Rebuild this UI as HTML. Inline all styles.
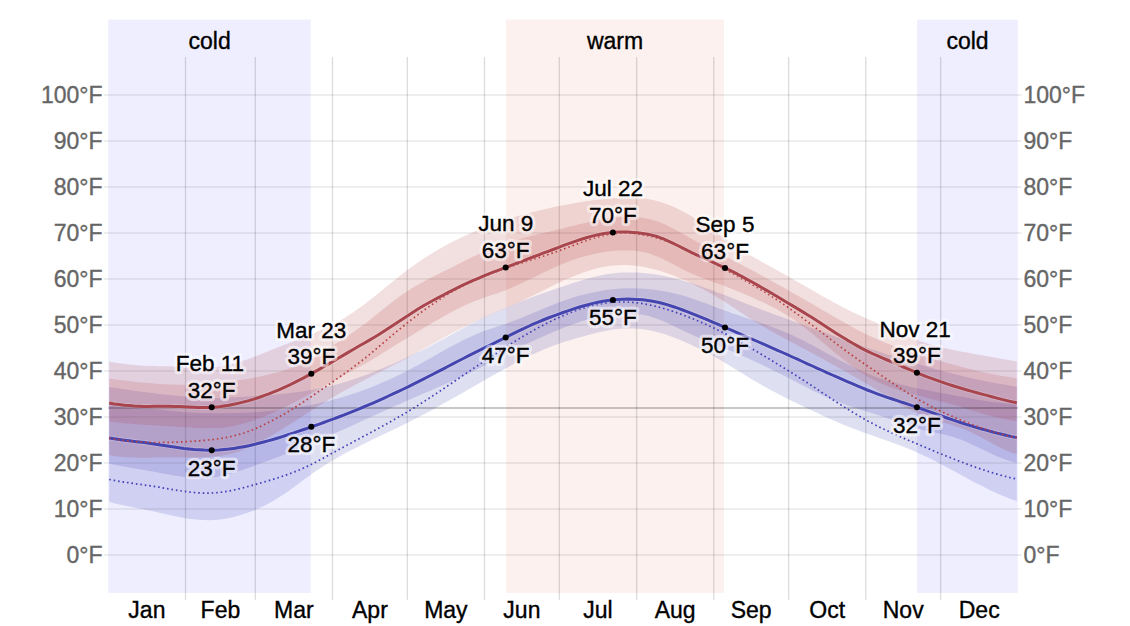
<!DOCTYPE html>
<html><head><meta charset="utf-8"><style>html,body{margin:0;padding:0;background:#fff;overflow:hidden}svg{display:block;font-family:"Liberation Sans", sans-serif}</style></head>
<body><svg width="1130" height="626" viewBox="0 0 1130 626">
<rect width="1130" height="626" fill="#fff"/>
<rect x="108.2" y="19.6" width="202.6" height="573.3" fill="#eeeeff"/>
<text x="209.6" y="48.5" font-size="23" text-anchor="middle" fill="#000" stroke="#000" stroke-width="0.35">cold</text>
<rect x="506.0" y="19.6" width="218.0" height="573.3" fill="#fcf1ee"/>
<text x="615.0" y="48.5" font-size="23" text-anchor="middle" fill="#000" stroke="#000" stroke-width="0.35">warm</text>
<rect x="917.1" y="19.6" width="100.7" height="573.3" fill="#eeeeff"/>
<text x="967.5" y="48.5" font-size="23" text-anchor="middle" fill="#000" stroke="#000" stroke-width="0.35">cold</text>
<line x1="104" x2="1021.5" y1="555.1" y2="555.1" stroke="#000" stroke-opacity="0.065" stroke-width="2"/>
<line x1="104" x2="1021.5" y1="509.1" y2="509.1" stroke="#000" stroke-opacity="0.065" stroke-width="2"/>
<line x1="104" x2="1021.5" y1="463.1" y2="463.1" stroke="#000" stroke-opacity="0.065" stroke-width="2"/>
<line x1="104" x2="1021.5" y1="417.1" y2="417.1" stroke="#000" stroke-opacity="0.065" stroke-width="2"/>
<line x1="104" x2="1021.5" y1="371.1" y2="371.1" stroke="#000" stroke-opacity="0.065" stroke-width="2"/>
<line x1="104" x2="1021.5" y1="325.1" y2="325.1" stroke="#000" stroke-opacity="0.065" stroke-width="2"/>
<line x1="104" x2="1021.5" y1="279.0" y2="279.0" stroke="#000" stroke-opacity="0.065" stroke-width="2"/>
<line x1="104" x2="1021.5" y1="233.0" y2="233.0" stroke="#000" stroke-opacity="0.065" stroke-width="2"/>
<line x1="104" x2="1021.5" y1="187.0" y2="187.0" stroke="#000" stroke-opacity="0.065" stroke-width="2"/>
<line x1="104" x2="1021.5" y1="141.0" y2="141.0" stroke="#000" stroke-opacity="0.065" stroke-width="2"/>
<line x1="104" x2="1021.5" y1="95.0" y2="95.0" stroke="#000" stroke-opacity="0.065" stroke-width="2"/>
<line x1="185.5" x2="185.5" y1="57.1" y2="599.7" stroke="#000" stroke-opacity="0.14" stroke-width="1.3"/>
<line x1="255.3" x2="255.3" y1="57.1" y2="599.7" stroke="#000" stroke-opacity="0.14" stroke-width="1.3"/>
<line x1="332.5" x2="332.5" y1="57.1" y2="599.7" stroke="#000" stroke-opacity="0.14" stroke-width="1.3"/>
<line x1="407.3" x2="407.3" y1="57.1" y2="599.7" stroke="#000" stroke-opacity="0.14" stroke-width="1.3"/>
<line x1="484.5" x2="484.5" y1="57.1" y2="599.7" stroke="#000" stroke-opacity="0.14" stroke-width="1.3"/>
<line x1="559.3" x2="559.3" y1="57.1" y2="599.7" stroke="#000" stroke-opacity="0.14" stroke-width="1.3"/>
<line x1="636.6" x2="636.6" y1="57.1" y2="599.7" stroke="#000" stroke-opacity="0.14" stroke-width="1.3"/>
<line x1="713.8" x2="713.8" y1="57.1" y2="599.7" stroke="#000" stroke-opacity="0.14" stroke-width="1.3"/>
<line x1="788.6" x2="788.6" y1="57.1" y2="599.7" stroke="#000" stroke-opacity="0.14" stroke-width="1.3"/>
<line x1="865.8" x2="865.8" y1="57.1" y2="599.7" stroke="#000" stroke-opacity="0.14" stroke-width="1.3"/>
<line x1="940.6" x2="940.6" y1="57.1" y2="599.7" stroke="#000" stroke-opacity="0.14" stroke-width="1.3"/>
<path d="M109.2,387.0 L114.2,387.8 L119.2,388.6 L124.2,389.3 L129.2,390.1 L134.2,390.8 L139.2,391.4 L144.2,392.1 L149.1,392.7 L154.1,393.3 L159.1,393.9 L164.1,394.4 L169.1,394.9 L174.1,395.4 L179.1,395.9 L184.0,396.4 L189.0,396.9 L194.0,397.4 L199.0,397.8 L204.0,398.1 L209.0,398.2 L214.0,398.3 L219.0,398.1 L223.9,397.9 L228.9,397.6 L233.9,397.3 L238.9,397.0 L243.9,396.7 L248.9,396.4 L253.9,396.1 L258.8,395.8 L263.8,395.5 L268.8,395.1 L273.8,394.7 L278.8,394.2 L283.8,393.7 L288.8,393.2 L293.8,392.6 L298.7,392.0 L303.7,391.2 L308.7,390.5 L313.7,389.6 L318.7,388.6 L323.7,387.6 L328.7,386.5 L333.7,385.2 L338.6,383.9 L343.6,382.5 L348.6,380.9 L353.6,379.3 L358.6,377.6 L363.6,375.8 L368.6,374.0 L373.5,372.1 L378.5,370.1 L383.5,368.0 L388.5,365.8 L393.5,363.7 L398.5,361.4 L403.5,359.1 L408.5,356.7 L413.4,354.3 L418.4,351.9 L423.4,349.4 L428.4,346.9 L433.4,344.3 L438.4,341.6 L443.4,339.0 L448.3,336.3 L453.3,333.5 L458.3,330.8 L463.3,328.0 L468.3,325.3 L473.3,322.7 L478.3,320.2 L483.3,317.8 L488.2,315.5 L493.2,313.2 L498.2,311.1 L503.2,308.9 L508.2,306.8 L513.2,304.7 L518.2,302.6 L523.1,300.6 L528.1,298.7 L533.1,296.8 L538.1,295.0 L543.1,293.2 L548.1,291.5 L553.1,289.8 L558.1,288.1 L563.0,286.4 L568.0,284.8 L573.0,283.1 L578.0,281.5 L583.0,280.0 L588.0,278.6 L593.0,277.3 L597.9,276.1 L602.9,275.0 L607.9,274.1 L612.9,273.4 L617.9,272.8 L622.9,272.5 L627.9,272.4 L632.9,272.4 L637.8,272.6 L642.8,272.9 L647.8,273.4 L652.8,274.1 L657.8,274.8 L662.8,275.8 L667.8,276.8 L672.7,278.0 L677.7,279.2 L682.7,280.6 L687.7,282.1 L692.7,283.6 L697.7,285.2 L702.7,286.9 L707.7,288.7 L712.6,290.5 L717.6,292.4 L722.6,294.3 L727.6,296.3 L732.6,298.3 L737.6,300.3 L742.6,302.2 L747.5,304.2 L752.5,306.2 L757.5,308.1 L762.5,310.0 L767.5,311.8 L772.5,313.7 L777.5,315.5 L782.5,317.3 L787.4,319.1 L792.4,320.9 L797.4,322.7 L802.4,324.6 L807.4,326.4 L812.4,328.2 L817.4,330.0 L822.4,331.8 L827.3,333.6 L832.3,335.4 L837.3,337.2 L842.3,339.0 L847.3,340.7 L852.3,342.5 L857.3,344.2 L862.2,346.0 L867.2,347.7 L872.2,349.4 L877.2,351.1 L882.2,352.8 L887.2,354.4 L892.2,356.0 L897.2,357.6 L902.1,359.2 L907.1,360.8 L912.1,362.3 L917.1,363.8 L922.1,365.3 L927.1,366.8 L932.1,368.2 L937.0,369.6 L942.0,370.9 L947.0,372.3 L952.0,373.6 L957.0,374.8 L962.0,376.0 L967.0,377.2 L972.0,378.3 L976.9,379.4 L981.9,380.5 L986.9,381.5 L991.9,382.5 L996.9,383.4 L1001.9,384.3 L1006.9,385.1 L1011.8,385.9 L1016.8,386.7 L1016.8,501.1 L1011.8,499.4 L1006.9,497.5 L1001.9,495.5 L996.9,493.3 L991.9,491.0 L986.9,488.6 L981.9,486.1 L976.9,483.6 L972.0,480.9 L967.0,478.3 L962.0,475.5 L957.0,472.8 L952.0,470.1 L947.0,467.4 L942.0,464.7 L937.0,462.1 L932.1,459.5 L927.1,457.1 L922.1,454.7 L917.1,452.4 L912.1,450.3 L907.1,448.3 L902.1,446.3 L897.2,444.4 L892.2,442.6 L887.2,440.8 L882.2,439.1 L877.2,437.3 L872.2,435.6 L867.2,433.8 L862.2,432.0 L857.3,430.1 L852.3,428.2 L847.3,426.2 L842.3,424.2 L837.3,422.1 L832.3,419.9 L827.3,417.7 L822.4,415.4 L817.4,413.1 L812.4,410.8 L807.4,408.4 L802.4,406.0 L797.4,403.6 L792.4,401.2 L787.4,398.7 L782.5,396.2 L777.5,393.6 L772.5,391.0 L767.5,388.3 L762.5,385.5 L757.5,382.6 L752.5,379.7 L747.5,376.7 L742.6,373.6 L737.6,370.5 L732.6,367.4 L727.6,364.4 L722.6,361.3 L717.6,358.4 L712.6,355.5 L707.7,352.8 L702.7,350.3 L697.7,347.9 L692.7,345.5 L687.7,343.3 L682.7,341.1 L677.7,339.0 L672.7,337.1 L667.8,335.3 L662.8,333.6 L657.8,332.2 L652.8,330.9 L647.8,329.9 L642.8,329.2 L637.8,328.7 L632.9,328.4 L627.9,328.4 L622.9,328.5 L617.9,328.9 L612.9,329.6 L607.9,330.4 L602.9,331.4 L597.9,332.5 L593.0,333.8 L588.0,335.1 L583.0,336.5 L578.0,337.8 L573.0,339.2 L568.0,340.7 L563.0,342.2 L558.1,343.9 L553.1,345.7 L548.1,347.7 L543.1,349.8 L538.1,351.9 L533.1,354.2 L528.1,356.6 L523.1,359.1 L518.2,361.6 L513.2,364.3 L508.2,366.9 L503.2,369.7 L498.2,372.5 L493.2,375.3 L488.2,378.1 L483.3,380.9 L478.3,383.8 L473.3,386.7 L468.3,389.5 L463.3,392.4 L458.3,395.2 L453.3,398.0 L448.3,400.9 L443.4,403.6 L438.4,406.4 L433.4,409.2 L428.4,411.9 L423.4,414.5 L418.4,417.2 L413.4,419.7 L408.5,422.3 L403.5,424.8 L398.5,427.2 L393.5,429.6 L388.5,432.0 L383.5,434.3 L378.5,436.7 L373.5,439.1 L368.6,441.5 L363.6,443.9 L358.6,446.4 L353.6,448.9 L348.6,451.5 L343.6,454.2 L338.6,457.0 L333.7,459.9 L328.7,462.8 L323.7,466.0 L318.7,469.2 L313.7,472.6 L308.7,476.2 L303.7,479.8 L298.7,483.6 L293.8,487.3 L288.8,490.9 L283.8,494.3 L278.8,497.6 L273.8,500.6 L268.8,503.3 L263.8,505.9 L258.8,508.2 L253.9,510.4 L248.9,512.3 L243.9,514.1 L238.9,515.6 L233.9,517.0 L228.9,518.1 L223.9,519.0 L219.0,519.7 L214.0,520.1 L209.0,520.2 L204.0,520.1 L199.0,519.8 L194.0,519.3 L189.0,518.7 L184.0,517.9 L179.1,517.0 L174.1,516.0 L169.1,514.9 L164.1,513.8 L159.1,512.7 L154.1,511.6 L149.1,510.5 L144.2,509.5 L139.2,508.5 L134.2,507.6 L129.2,506.6 L124.2,505.6 L119.2,504.4 L114.2,503.2 L109.2,501.7Z" fill="rgba(40,40,170,0.15)"/>
<path d="M109.2,404.4 L114.2,404.8 L119.2,405.3 L124.2,405.7 L129.2,406.2 L134.2,406.7 L139.2,407.2 L144.2,407.7 L149.1,408.3 L154.1,408.9 L159.1,409.5 L164.1,410.1 L169.1,410.7 L174.1,411.3 L179.1,411.7 L184.0,412.2 L189.0,412.5 L194.0,412.7 L199.0,412.9 L204.0,413.0 L209.0,413.1 L214.0,413.2 L219.0,413.2 L223.9,413.2 L228.9,413.2 L233.9,413.1 L238.9,412.9 L243.9,412.8 L248.9,412.5 L253.9,412.3 L258.8,411.9 L263.8,411.5 L268.8,411.1 L273.8,410.6 L278.8,410.0 L283.8,409.4 L288.8,408.7 L293.8,408.0 L298.7,407.2 L303.7,406.3 L308.7,405.4 L313.7,404.3 L318.7,403.2 L323.7,402.1 L328.7,400.9 L333.7,399.6 L338.6,398.2 L343.6,396.7 L348.6,395.2 L353.6,393.6 L358.6,391.9 L363.6,390.1 L368.6,388.2 L373.5,386.3 L378.5,384.2 L383.5,382.1 L388.5,379.9 L393.5,377.6 L398.5,375.3 L403.5,372.8 L408.5,370.2 L413.4,367.6 L418.4,364.8 L423.4,362.0 L428.4,359.2 L433.4,356.4 L438.4,353.6 L443.4,350.8 L448.3,348.0 L453.3,345.3 L458.3,342.7 L463.3,340.1 L468.3,337.7 L473.3,335.4 L478.3,333.3 L483.3,331.3 L488.2,329.5 L493.2,327.9 L498.2,326.3 L503.2,324.7 L508.2,323.0 L513.2,321.1 L518.2,319.2 L523.1,317.2 L528.1,315.1 L533.1,313.0 L538.1,310.9 L543.1,308.8 L548.1,306.7 L553.1,304.7 L558.1,302.8 L563.0,300.9 L568.0,299.2 L573.0,297.6 L578.0,296.1 L583.0,294.7 L588.0,293.5 L593.0,292.4 L597.9,291.4 L602.9,290.5 L607.9,289.8 L612.9,289.2 L617.9,288.8 L622.9,288.5 L627.9,288.3 L632.9,288.3 L637.8,288.4 L642.8,288.7 L647.8,289.1 L652.8,289.6 L657.8,290.3 L662.8,291.1 L667.8,292.0 L672.7,293.1 L677.7,294.3 L682.7,295.6 L687.7,297.1 L692.7,298.7 L697.7,300.5 L702.7,302.3 L707.7,304.1 L712.6,306.0 L717.6,307.9 L722.6,309.8 L727.6,311.6 L732.6,313.4 L737.6,315.1 L742.6,316.7 L747.5,318.4 L752.5,320.1 L757.5,321.8 L762.5,323.5 L767.5,325.2 L772.5,327.1 L777.5,329.0 L782.5,331.0 L787.4,333.1 L792.4,335.3 L797.4,337.7 L802.4,340.1 L807.4,342.7 L812.4,345.3 L817.4,348.0 L822.4,350.7 L827.3,353.4 L832.3,356.2 L837.3,358.9 L842.3,361.5 L847.3,364.1 L852.3,366.6 L857.3,369.1 L862.2,371.4 L867.2,373.5 L872.2,375.5 L877.2,377.4 L882.2,379.1 L887.2,380.7 L892.2,382.2 L897.2,383.6 L902.1,384.9 L907.1,386.1 L912.1,387.3 L917.1,388.3 L922.1,389.3 L927.1,390.3 L932.1,391.3 L937.0,392.2 L942.0,393.1 L947.0,394.0 L952.0,394.9 L957.0,395.9 L962.0,396.8 L967.0,397.8 L972.0,398.8 L976.9,399.7 L981.9,400.6 L986.9,401.3 L991.9,402.0 L996.9,402.5 L1001.9,403.0 L1006.9,403.4 L1011.8,403.9 L1016.8,404.3 L1016.8,463.0 L1011.8,461.6 L1006.9,460.0 L1001.9,458.2 L996.9,456.2 L991.9,454.0 L986.9,451.6 L981.9,449.2 L976.9,446.7 L972.0,444.4 L967.0,442.2 L962.0,440.1 L957.0,438.2 L952.0,436.6 L947.0,435.3 L942.0,434.1 L937.0,433.0 L932.1,431.9 L927.1,430.9 L922.1,429.7 L917.1,428.4 L912.1,426.9 L907.1,425.3 L902.1,423.6 L897.2,421.8 L892.2,420.0 L887.2,418.2 L882.2,416.4 L877.2,414.8 L872.2,413.2 L867.2,411.7 L862.2,410.2 L857.3,408.6 L852.3,407.0 L847.3,405.4 L842.3,403.6 L837.3,401.6 L832.3,399.6 L827.3,397.4 L822.4,395.2 L817.4,392.8 L812.4,390.4 L807.4,387.8 L802.4,385.3 L797.4,382.7 L792.4,380.0 L787.4,377.5 L782.5,374.9 L777.5,372.4 L772.5,369.9 L767.5,367.5 L762.5,365.1 L757.5,362.7 L752.5,360.4 L747.5,358.1 L742.6,355.9 L737.6,353.7 L732.6,351.6 L727.6,349.5 L722.6,347.4 L717.6,345.4 L712.6,343.4 L707.7,341.4 L702.7,339.3 L697.7,337.2 L692.7,335.0 L687.7,332.8 L682.7,330.4 L677.7,327.9 L672.7,325.5 L667.8,323.2 L662.8,321.0 L657.8,319.0 L652.8,317.2 L647.8,315.8 L642.8,314.7 L637.8,313.9 L632.9,313.4 L627.9,313.2 L622.9,313.2 L617.9,313.5 L612.9,314.0 L607.9,314.7 L602.9,315.6 L597.9,316.7 L593.0,317.9 L588.0,319.3 L583.0,320.8 L578.0,322.5 L573.0,324.2 L568.0,326.1 L563.0,328.0 L558.1,330.0 L553.1,332.1 L548.1,334.2 L543.1,336.4 L538.1,338.6 L533.1,340.9 L528.1,343.2 L523.1,345.6 L518.2,348.1 L513.2,350.6 L508.2,353.1 L503.2,355.7 L498.2,358.4 L493.2,361.0 L488.2,363.6 L483.3,366.2 L478.3,368.7 L473.3,371.2 L468.3,373.6 L463.3,375.9 L458.3,378.2 L453.3,380.5 L448.3,382.7 L443.4,384.9 L438.4,387.1 L433.4,389.3 L428.4,391.5 L423.4,393.6 L418.4,395.8 L413.4,397.9 L408.5,400.1 L403.5,402.3 L398.5,404.5 L393.5,406.8 L388.5,409.0 L383.5,411.3 L378.5,413.5 L373.5,415.8 L368.6,418.1 L363.6,420.3 L358.6,422.6 L353.6,424.9 L348.6,427.2 L343.6,429.4 L338.6,431.6 L333.7,433.9 L328.7,436.1 L323.7,438.3 L318.7,440.4 L313.7,442.6 L308.7,444.7 L303.7,446.7 L298.7,448.8 L293.8,450.8 L288.8,452.8 L283.8,454.8 L278.8,456.7 L273.8,458.6 L268.8,460.4 L263.8,462.3 L258.8,464.1 L253.9,465.9 L248.9,467.7 L243.9,469.5 L238.9,471.1 L233.9,472.7 L228.9,474.1 L223.9,475.4 L219.0,476.4 L214.0,477.2 L209.0,477.8 L204.0,478.0 L199.0,478.1 L194.0,477.9 L189.0,477.5 L184.0,476.9 L179.1,476.2 L174.1,475.5 L169.1,474.6 L164.1,473.7 L159.1,472.7 L154.1,471.8 L149.1,470.9 L144.2,470.0 L139.2,469.2 L134.2,468.4 L129.2,467.5 L124.2,466.6 L119.2,465.7 L114.2,464.7 L109.2,463.5Z" fill="rgba(40,40,170,0.15)"/>
<path d="M109.2,361.7 L114.2,362.5 L119.2,363.2 L124.2,363.8 L129.2,364.4 L134.2,364.9 L139.2,365.4 L144.2,365.7 L149.1,366.0 L154.1,366.1 L159.1,366.2 L164.1,366.3 L169.1,366.3 L174.1,366.4 L179.1,366.5 L184.0,366.7 L189.0,366.9 L194.0,367.1 L199.0,367.3 L204.0,367.4 L209.0,367.4 L214.0,367.1 L219.0,366.7 L223.9,366.0 L228.9,365.0 L233.9,363.8 L238.9,362.3 L243.9,360.6 L248.9,358.8 L253.9,356.9 L258.8,355.0 L263.8,353.0 L268.8,351.0 L273.8,349.0 L278.8,347.0 L283.8,345.1 L288.8,343.2 L293.8,341.3 L298.7,339.4 L303.7,337.4 L308.7,335.3 L313.7,333.2 L318.7,331.1 L323.7,328.8 L328.7,326.5 L333.7,324.0 L338.6,321.3 L343.6,318.4 L348.6,315.3 L353.6,312.0 L358.6,308.6 L363.6,304.9 L368.6,301.1 L373.5,297.2 L378.5,293.2 L383.5,289.1 L388.5,285.0 L393.5,280.9 L398.5,276.9 L403.5,273.0 L408.5,269.3 L413.4,265.7 L418.4,262.2 L423.4,258.8 L428.4,255.6 L433.4,252.4 L438.4,249.5 L443.4,246.7 L448.3,243.9 L453.3,241.3 L458.3,238.9 L463.3,236.5 L468.3,234.2 L473.3,232.0 L478.3,229.9 L483.3,227.8 L488.2,225.9 L493.2,224.1 L498.2,222.3 L503.2,220.6 L508.2,219.0 L513.2,217.5 L518.2,216.0 L523.1,214.6 L528.1,213.2 L533.1,212.0 L538.1,210.7 L543.1,209.5 L548.1,208.4 L553.1,207.3 L558.1,206.3 L563.0,205.3 L568.0,204.4 L573.0,203.4 L578.0,202.6 L583.0,201.8 L588.0,201.0 L593.0,200.3 L597.9,199.7 L602.9,199.2 L607.9,198.7 L612.9,198.3 L617.9,197.9 L622.9,197.7 L627.9,197.6 L632.9,197.7 L637.8,197.9 L642.8,198.4 L647.8,199.1 L652.8,200.0 L657.8,201.2 L662.8,202.7 L667.8,204.5 L672.7,206.5 L677.7,208.8 L682.7,211.4 L687.7,214.1 L692.7,217.0 L697.7,220.1 L702.7,223.3 L707.7,226.7 L712.6,230.2 L717.6,233.6 L722.6,237.1 L727.6,240.6 L732.6,244.0 L737.6,247.3 L742.6,250.4 L747.5,253.5 L752.5,256.4 L757.5,259.3 L762.5,262.2 L767.5,265.0 L772.5,267.8 L777.5,270.5 L782.5,273.3 L787.4,276.1 L792.4,278.9 L797.4,281.7 L802.4,284.6 L807.4,287.5 L812.4,290.3 L817.4,293.2 L822.4,296.0 L827.3,298.8 L832.3,301.6 L837.3,304.3 L842.3,306.9 L847.3,309.4 L852.3,311.9 L857.3,314.3 L862.2,316.6 L867.2,318.8 L872.2,321.0 L877.2,323.1 L882.2,325.1 L887.2,327.2 L892.2,329.4 L897.2,331.6 L902.1,333.8 L907.1,336.0 L912.1,338.1 L917.1,340.0 L922.1,341.8 L927.1,343.4 L932.1,344.9 L937.0,346.2 L942.0,347.5 L947.0,348.6 L952.0,349.7 L957.0,350.7 L962.0,351.7 L967.0,352.6 L972.0,353.5 L976.9,354.4 L981.9,355.3 L986.9,356.2 L991.9,357.1 L996.9,358.0 L1001.9,358.9 L1006.9,359.7 L1011.8,360.6 L1016.8,361.4 L1016.8,454.3 L1011.8,452.7 L1006.9,450.7 L1001.9,448.5 L996.9,446.0 L991.9,443.3 L986.9,440.5 L981.9,437.7 L976.9,435.2 L972.0,432.8 L967.0,430.6 L962.0,428.6 L957.0,426.8 L952.0,425.1 L947.0,423.5 L942.0,422.0 L937.0,420.5 L932.1,418.9 L927.1,417.1 L922.1,415.2 L917.1,413.1 L912.1,410.7 L907.1,408.1 L902.1,405.3 L897.2,402.4 L892.2,399.4 L887.2,396.3 L882.2,393.2 L877.2,390.1 L872.2,387.1 L867.2,384.1 L862.2,381.2 L857.3,378.3 L852.3,375.4 L847.3,372.6 L842.3,369.8 L837.3,367.0 L832.3,364.2 L827.3,361.5 L822.4,358.8 L817.4,356.0 L812.4,353.3 L807.4,350.6 L802.4,348.0 L797.4,345.3 L792.4,342.6 L787.4,339.9 L782.5,337.2 L777.5,334.5 L772.5,331.8 L767.5,329.0 L762.5,326.1 L757.5,323.1 L752.5,320.1 L747.5,316.9 L742.6,313.6 L737.6,310.3 L732.6,307.0 L727.6,303.7 L722.6,300.5 L717.6,297.4 L712.6,294.5 L707.7,291.7 L702.7,289.0 L697.7,286.4 L692.7,283.9 L687.7,281.6 L682.7,279.3 L677.7,277.2 L672.7,275.3 L667.8,273.4 L662.8,271.8 L657.8,270.2 L652.8,268.9 L647.8,267.8 L642.8,266.8 L637.8,266.0 L632.9,265.5 L627.9,265.1 L622.9,265.0 L617.9,265.2 L612.9,265.5 L607.9,266.2 L602.9,267.0 L597.9,268.1 L593.0,269.4 L588.0,270.9 L583.0,272.6 L578.0,274.4 L573.0,276.4 L568.0,278.5 L563.0,280.7 L558.1,283.1 L553.1,285.5 L548.1,287.9 L543.1,290.4 L538.1,292.9 L533.1,295.4 L528.1,297.8 L523.1,300.2 L518.2,302.5 L513.2,304.8 L508.2,307.0 L503.2,309.2 L498.2,311.3 L493.2,313.5 L488.2,315.7 L483.3,317.9 L478.3,320.2 L473.3,322.5 L468.3,324.9 L463.3,327.4 L458.3,330.0 L453.3,332.6 L448.3,335.3 L443.4,338.0 L438.4,340.8 L433.4,343.5 L428.4,346.3 L423.4,349.1 L418.4,351.8 L413.4,354.6 L408.5,357.3 L403.5,359.9 L398.5,362.5 L393.5,365.1 L388.5,367.7 L383.5,370.2 L378.5,372.8 L373.5,375.3 L368.6,377.9 L363.6,380.4 L358.6,383.1 L353.6,385.7 L348.6,388.4 L343.6,391.1 L338.6,393.9 L333.7,396.8 L328.7,399.8 L323.7,402.8 L318.7,405.9 L313.7,409.1 L308.7,412.3 L303.7,415.5 L298.7,418.7 L293.8,421.9 L288.8,425.0 L283.8,428.2 L278.8,431.2 L273.8,434.2 L268.8,437.1 L263.8,439.9 L258.8,442.6 L253.9,445.1 L248.9,447.4 L243.9,449.5 L238.9,451.4 L233.9,452.9 L228.9,454.2 L223.9,455.3 L219.0,456.0 L214.0,456.6 L209.0,457.0 L204.0,457.3 L199.0,457.5 L194.0,457.6 L189.0,457.6 L184.0,457.6 L179.1,457.6 L174.1,457.5 L169.1,457.5 L164.1,457.5 L159.1,457.6 L154.1,457.6 L149.1,457.7 L144.2,457.7 L139.2,457.7 L134.2,457.6 L129.2,457.5 L124.2,457.2 L119.2,456.7 L114.2,456.0 L109.2,454.9Z" fill="rgba(170,40,40,0.15)"/>
<path d="M109.2,378.5 L114.2,379.2 L119.2,379.9 L124.2,380.5 L129.2,381.1 L134.2,381.7 L139.2,382.2 L144.2,382.7 L149.1,383.1 L154.1,383.5 L159.1,383.9 L164.1,384.2 L169.1,384.5 L174.1,384.6 L179.1,384.8 L184.0,384.8 L189.0,384.8 L194.0,384.7 L199.0,384.6 L204.0,384.3 L209.0,384.0 L214.0,383.6 L219.0,383.0 L223.9,382.5 L228.9,381.8 L233.9,381.1 L238.9,380.3 L243.9,379.5 L248.9,378.7 L253.9,377.8 L258.8,376.8 L263.8,375.8 L268.8,374.6 L273.8,373.3 L278.8,372.0 L283.8,370.4 L288.8,368.7 L293.8,366.9 L298.7,364.8 L303.7,362.6 L308.7,360.1 L313.7,357.4 L318.7,354.5 L323.7,351.4 L328.7,348.2 L333.7,345.0 L338.6,341.8 L343.6,338.6 L348.6,335.3 L353.6,331.9 L358.6,328.3 L363.6,324.7 L368.6,321.0 L373.5,317.1 L378.5,313.1 L383.5,309.1 L388.5,305.0 L393.5,301.1 L398.5,297.3 L403.5,293.7 L408.5,290.4 L413.4,287.3 L418.4,284.4 L423.4,281.7 L428.4,279.1 L433.4,276.5 L438.4,274.1 L443.4,271.6 L448.3,269.2 L453.3,266.7 L458.3,264.1 L463.3,261.5 L468.3,259.0 L473.3,256.6 L478.3,254.2 L483.3,252.0 L488.2,249.9 L493.2,247.9 L498.2,246.0 L503.2,244.2 L508.2,242.5 L513.2,241.0 L518.2,239.5 L523.1,238.1 L528.1,236.8 L533.1,235.5 L538.1,234.3 L543.1,233.1 L548.1,231.9 L553.1,230.8 L558.1,229.6 L563.0,228.4 L568.0,227.1 L573.0,225.9 L578.0,224.6 L583.0,223.4 L588.0,222.3 L593.0,221.2 L597.9,220.1 L602.9,219.2 L607.9,218.4 L612.9,217.8 L617.9,217.2 L622.9,216.9 L627.9,216.8 L632.9,216.8 L637.8,217.2 L642.8,217.8 L647.8,218.7 L652.8,219.9 L657.8,221.5 L662.8,223.5 L667.8,225.7 L672.7,228.2 L677.7,230.9 L682.7,233.7 L687.7,236.6 L692.7,239.4 L697.7,242.2 L702.7,244.9 L707.7,247.5 L712.6,250.1 L717.6,252.7 L722.6,255.2 L727.6,257.7 L732.6,260.2 L737.6,262.7 L742.6,265.3 L747.5,267.9 L752.5,270.6 L757.5,273.2 L762.5,275.9 L767.5,278.7 L772.5,281.5 L777.5,284.2 L782.5,287.0 L787.4,289.8 L792.4,292.7 L797.4,295.5 L802.4,298.3 L807.4,301.2 L812.4,304.1 L817.4,307.0 L822.4,309.9 L827.3,312.8 L832.3,315.7 L837.3,318.6 L842.3,321.5 L847.3,324.3 L852.3,327.0 L857.3,329.7 L862.2,332.3 L867.2,334.8 L872.2,337.1 L877.2,339.3 L882.2,341.4 L887.2,343.4 L892.2,345.3 L897.2,347.2 L902.1,349.0 L907.1,350.8 L912.1,352.5 L917.1,354.1 L922.1,355.7 L927.1,357.2 L932.1,358.7 L937.0,360.2 L942.0,361.6 L947.0,363.0 L952.0,364.3 L957.0,365.6 L962.0,366.9 L967.0,368.3 L972.0,369.5 L976.9,370.8 L981.9,371.9 L986.9,373.0 L991.9,374.0 L996.9,375.0 L1001.9,375.9 L1006.9,376.7 L1011.8,377.5 L1016.8,378.2 L1016.8,421.2 L1011.8,420.4 L1006.9,419.5 L1001.9,418.6 L996.9,417.5 L991.9,416.3 L986.9,415.0 L981.9,413.6 L976.9,412.1 L972.0,410.5 L967.0,408.9 L962.0,407.3 L957.0,405.8 L952.0,404.4 L947.0,403.0 L942.0,401.7 L937.0,400.4 L932.1,399.1 L927.1,397.9 L922.1,396.6 L917.1,395.3 L912.1,394.0 L907.1,392.7 L902.1,391.2 L897.2,389.6 L892.2,387.9 L887.2,386.0 L882.2,384.0 L877.2,381.7 L872.2,379.2 L867.2,376.4 L862.2,373.3 L857.3,369.9 L852.3,366.3 L847.3,362.6 L842.3,358.6 L837.3,354.6 L832.3,350.5 L827.3,346.3 L822.4,342.1 L817.4,337.9 L812.4,333.8 L807.4,329.8 L802.4,325.9 L797.4,322.2 L792.4,318.7 L787.4,315.5 L782.5,312.4 L777.5,309.6 L772.5,307.0 L767.5,304.5 L762.5,302.1 L757.5,299.9 L752.5,297.6 L747.5,295.5 L742.6,293.3 L737.6,291.2 L732.6,289.2 L727.6,287.2 L722.6,285.3 L717.6,283.5 L712.6,281.8 L707.7,280.0 L702.7,278.1 L697.7,276.2 L692.7,274.1 L687.7,271.8 L682.7,269.3 L677.7,266.6 L672.7,264.0 L667.8,261.4 L662.8,258.9 L657.8,256.7 L652.8,254.7 L647.8,253.1 L642.8,252.0 L637.8,251.1 L632.9,250.6 L627.9,250.4 L622.9,250.4 L617.9,250.6 L612.9,251.0 L607.9,251.6 L602.9,252.3 L597.9,253.2 L593.0,254.3 L588.0,255.4 L583.0,256.8 L578.0,258.3 L573.0,259.9 L568.0,261.7 L563.0,263.7 L558.1,265.8 L553.1,268.0 L548.1,270.4 L543.1,272.8 L538.1,275.2 L533.1,277.7 L528.1,280.1 L523.1,282.5 L518.2,284.8 L513.2,287.1 L508.2,289.2 L503.2,291.1 L498.2,292.9 L493.2,294.6 L488.2,296.3 L483.3,298.0 L478.3,299.8 L473.3,301.7 L468.3,303.7 L463.3,306.0 L458.3,308.4 L453.3,311.0 L448.3,313.7 L443.4,316.5 L438.4,319.4 L433.4,322.3 L428.4,325.3 L423.4,328.3 L418.4,331.3 L413.4,334.3 L408.5,337.3 L403.5,340.2 L398.5,343.2 L393.5,346.3 L388.5,349.5 L383.5,352.6 L378.5,355.7 L373.5,358.7 L368.6,361.7 L363.6,364.5 L358.6,367.3 L353.6,370.1 L348.6,372.8 L343.6,375.5 L338.6,378.2 L333.7,380.9 L328.7,383.6 L323.7,386.4 L318.7,389.1 L313.7,391.9 L308.7,394.6 L303.7,397.3 L298.7,400.0 L293.8,402.6 L288.8,405.2 L283.8,407.7 L278.8,410.1 L273.8,412.4 L268.8,414.6 L263.8,416.7 L258.8,418.6 L253.9,420.4 L248.9,422.1 L243.9,423.5 L238.9,424.8 L233.9,425.9 L228.9,426.7 L223.9,427.4 L219.0,427.9 L214.0,428.1 L209.0,428.3 L204.0,428.2 L199.0,428.1 L194.0,427.8 L189.0,427.5 L184.0,427.2 L179.1,426.9 L174.1,426.5 L169.1,426.2 L164.1,425.9 L159.1,425.6 L154.1,425.3 L149.1,425.0 L144.2,424.7 L139.2,424.4 L134.2,424.0 L129.2,423.6 L124.2,423.2 L119.2,422.7 L114.2,422.1 L109.2,421.4Z" fill="rgba(170,40,40,0.15)"/>
<line x1="108.2" x2="1017.8" y1="407.9" y2="407.9" stroke="#000" stroke-opacity="0.21" stroke-width="2"/>
<path d="M109.2,479.5 L114.2,480.4 L119.2,481.3 L124.2,482.1 L129.2,482.8 L134.2,483.6 L139.2,484.3 L144.2,485.0 L149.1,485.7 L154.1,486.4 L159.1,487.2 L164.1,488.1 L169.1,488.9 L174.1,489.8 L179.1,490.6 L184.0,491.3 L189.0,492.0 L194.0,492.5 L199.0,492.9 L204.0,493.1 L209.0,493.1 L214.0,492.9 L219.0,492.5 L223.9,491.8 L228.9,491.0 L233.9,490.0 L238.9,488.8 L243.9,487.6 L248.9,486.3 L253.9,484.9 L258.8,483.5 L263.8,482.1 L268.8,480.6 L273.8,479.1 L278.8,477.5 L283.8,475.8 L288.8,474.1 L293.8,472.2 L298.7,470.2 L303.7,468.0 L308.7,465.7 L313.7,463.2 L318.7,460.6 L323.7,457.9 L328.7,455.1 L333.7,452.4 L338.6,449.7 L343.6,447.0 L348.6,444.3 L353.6,441.7 L358.6,439.0 L363.6,436.3 L368.6,433.7 L373.5,431.0 L378.5,428.3 L383.5,425.6 L388.5,422.8 L393.5,420.0 L398.5,417.1 L403.5,414.2 L408.5,411.2 L413.4,408.2 L418.4,405.1 L423.4,401.9 L428.4,398.7 L433.4,395.4 L438.4,392.1 L443.4,388.8 L448.3,385.4 L453.3,382.1 L458.3,378.7 L463.3,375.3 L468.3,371.9 L473.3,368.5 L478.3,365.2 L483.3,361.8 L488.2,358.5 L493.2,355.2 L498.2,351.9 L503.2,348.7 L508.2,345.5 L513.2,342.4 L518.2,339.3 L523.1,336.3 L528.1,333.4 L533.1,330.6 L538.1,327.8 L543.1,325.2 L548.1,322.6 L553.1,320.2 L558.1,317.9 L563.0,315.7 L568.0,313.6 L573.0,311.6 L578.0,309.8 L583.0,308.2 L588.0,306.7 L593.0,305.4 L597.9,304.3 L602.9,303.4 L607.9,302.7 L612.9,302.2 L617.9,301.9 L622.9,301.8 L627.9,302.0 L632.9,302.4 L637.8,302.9 L642.8,303.6 L647.8,304.5 L652.8,305.6 L657.8,306.8 L662.8,308.2 L667.8,309.7 L672.7,311.3 L677.7,313.0 L682.7,314.8 L687.7,316.8 L692.7,318.7 L697.7,320.8 L702.7,323.0 L707.7,325.2 L712.6,327.5 L717.6,329.9 L722.6,332.4 L727.6,335.0 L732.6,337.6 L737.6,340.4 L742.6,343.2 L747.5,346.1 L752.5,349.0 L757.5,352.0 L762.5,355.0 L767.5,358.0 L772.5,361.0 L777.5,364.1 L782.5,367.1 L787.4,370.1 L792.4,373.2 L797.4,376.4 L802.4,379.6 L807.4,382.8 L812.4,386.1 L817.4,389.4 L822.4,392.7 L827.3,396.0 L832.3,399.3 L837.3,402.6 L842.3,405.8 L847.3,408.9 L852.3,412.0 L857.3,415.0 L862.2,417.9 L867.2,420.7 L872.2,423.3 L877.2,425.9 L882.2,428.4 L887.2,430.7 L892.2,433.1 L897.2,435.3 L902.1,437.5 L907.1,439.7 L912.1,441.8 L917.1,443.9 L922.1,446.0 L927.1,448.1 L932.1,450.2 L937.0,452.3 L942.0,454.3 L947.0,456.3 L952.0,458.3 L957.0,460.3 L962.0,462.2 L967.0,464.1 L972.0,465.9 L976.9,467.7 L981.9,469.4 L986.9,471.0 L991.9,472.6 L996.9,474.1 L1001.9,475.5 L1006.9,476.8 L1011.8,478.0 L1016.8,479.0" fill="none" stroke="#4040b8" stroke-width="1.7" stroke-dasharray="1.6 2.9"/>
<path d="M109.2,438.0 L114.2,438.8 L119.2,439.5 L124.2,440.2 L129.2,440.8 L134.2,441.4 L139.2,442.0 L144.2,442.6 L149.1,443.3 L154.1,444.0 L159.1,444.7 L164.1,445.5 L169.1,446.3 L174.1,447.0 L179.1,447.7 L184.0,448.4 L189.0,449.0 L194.0,449.5 L199.0,449.8 L204.0,450.1 L209.0,450.2 L214.0,450.2 L219.0,450.0 L223.9,449.6 L228.9,449.1 L233.9,448.4 L238.9,447.6 L243.9,446.7 L248.9,445.7 L253.9,444.5 L258.8,443.3 L263.8,442.0 L268.8,440.6 L273.8,439.2 L278.8,437.7 L283.8,436.1 L288.8,434.5 L293.8,432.9 L298.7,431.2 L303.7,429.5 L308.7,427.8 L313.7,426.0 L318.7,424.3 L323.7,422.5 L328.7,420.7 L333.7,418.9 L338.6,417.0 L343.6,415.1 L348.6,413.1 L353.6,411.1 L358.6,409.1 L363.6,407.0 L368.6,404.9 L373.5,402.8 L378.5,400.6 L383.5,398.3 L388.5,396.0 L393.5,393.7 L398.5,391.4 L403.5,389.0 L408.5,386.6 L413.4,384.1 L418.4,381.6 L423.4,379.1 L428.4,376.5 L433.4,374.0 L438.4,371.4 L443.4,368.8 L448.3,366.2 L453.3,363.6 L458.3,361.0 L463.3,358.5 L468.3,355.9 L473.3,353.4 L478.3,350.9 L483.3,348.4 L488.2,346.0 L493.2,343.6 L498.2,341.1 L503.2,338.7 L508.2,336.2 L513.2,333.7 L518.2,331.2 L523.1,328.8 L528.1,326.5 L533.1,324.2 L538.1,322.1 L543.1,320.0 L548.1,318.0 L553.1,316.1 L558.1,314.3 L563.0,312.5 L568.0,310.8 L573.0,309.1 L578.0,307.5 L583.0,306.0 L588.0,304.7 L593.0,303.4 L597.9,302.3 L602.9,301.3 L607.9,300.5 L612.9,299.9 L617.9,299.4 L622.9,299.2 L627.9,299.1 L632.9,299.2 L637.8,299.4 L642.8,299.8 L647.8,300.4 L652.8,301.3 L657.8,302.3 L662.8,303.5 L667.8,304.9 L672.7,306.5 L677.7,308.2 L682.7,310.0 L687.7,311.8 L692.7,313.8 L697.7,315.8 L702.7,317.9 L707.7,319.9 L712.6,322.1 L717.6,324.2 L722.6,326.3 L727.6,328.5 L732.6,330.6 L737.6,332.8 L742.6,335.0 L747.5,337.1 L752.5,339.3 L757.5,341.5 L762.5,343.7 L767.5,345.9 L772.5,348.1 L777.5,350.3 L782.5,352.5 L787.4,354.7 L792.4,357.0 L797.4,359.2 L802.4,361.5 L807.4,363.8 L812.4,366.0 L817.4,368.3 L822.4,370.5 L827.3,372.8 L832.3,375.0 L837.3,377.2 L842.3,379.4 L847.3,381.6 L852.3,383.7 L857.3,385.9 L862.2,387.9 L867.2,390.0 L872.2,391.9 L877.2,393.8 L882.2,395.6 L887.2,397.3 L892.2,399.0 L897.2,400.6 L902.1,402.3 L907.1,403.9 L912.1,405.6 L917.1,407.3 L922.1,409.0 L927.1,410.8 L932.1,412.6 L937.0,414.4 L942.0,416.2 L947.0,418.0 L952.0,419.7 L957.0,421.4 L962.0,423.0 L967.0,424.6 L972.0,426.1 L976.9,427.6 L981.9,429.0 L986.9,430.4 L991.9,431.8 L996.9,433.1 L1001.9,434.3 L1006.9,435.5 L1011.8,436.6 L1016.8,437.6" fill="none" stroke="#fff" stroke-opacity="0.22" stroke-width="4.6" stroke-linejoin="round"/>
<path d="M109.2,438.0 L114.2,438.8 L119.2,439.5 L124.2,440.2 L129.2,440.8 L134.2,441.4 L139.2,442.0 L144.2,442.6 L149.1,443.3 L154.1,444.0 L159.1,444.7 L164.1,445.5 L169.1,446.3 L174.1,447.0 L179.1,447.7 L184.0,448.4 L189.0,449.0 L194.0,449.5 L199.0,449.8 L204.0,450.1 L209.0,450.2 L214.0,450.2 L219.0,450.0 L223.9,449.6 L228.9,449.1 L233.9,448.4 L238.9,447.6 L243.9,446.7 L248.9,445.7 L253.9,444.5 L258.8,443.3 L263.8,442.0 L268.8,440.6 L273.8,439.2 L278.8,437.7 L283.8,436.1 L288.8,434.5 L293.8,432.9 L298.7,431.2 L303.7,429.5 L308.7,427.8 L313.7,426.0 L318.7,424.3 L323.7,422.5 L328.7,420.7 L333.7,418.9 L338.6,417.0 L343.6,415.1 L348.6,413.1 L353.6,411.1 L358.6,409.1 L363.6,407.0 L368.6,404.9 L373.5,402.8 L378.5,400.6 L383.5,398.3 L388.5,396.0 L393.5,393.7 L398.5,391.4 L403.5,389.0 L408.5,386.6 L413.4,384.1 L418.4,381.6 L423.4,379.1 L428.4,376.5 L433.4,374.0 L438.4,371.4 L443.4,368.8 L448.3,366.2 L453.3,363.6 L458.3,361.0 L463.3,358.5 L468.3,355.9 L473.3,353.4 L478.3,350.9 L483.3,348.4 L488.2,346.0 L493.2,343.6 L498.2,341.1 L503.2,338.7 L508.2,336.2 L513.2,333.7 L518.2,331.2 L523.1,328.8 L528.1,326.5 L533.1,324.2 L538.1,322.1 L543.1,320.0 L548.1,318.0 L553.1,316.1 L558.1,314.3 L563.0,312.5 L568.0,310.8 L573.0,309.1 L578.0,307.5 L583.0,306.0 L588.0,304.7 L593.0,303.4 L597.9,302.3 L602.9,301.3 L607.9,300.5 L612.9,299.9 L617.9,299.4 L622.9,299.2 L627.9,299.1 L632.9,299.2 L637.8,299.4 L642.8,299.8 L647.8,300.4 L652.8,301.3 L657.8,302.3 L662.8,303.5 L667.8,304.9 L672.7,306.5 L677.7,308.2 L682.7,310.0 L687.7,311.8 L692.7,313.8 L697.7,315.8 L702.7,317.9 L707.7,319.9 L712.6,322.1 L717.6,324.2 L722.6,326.3 L727.6,328.5 L732.6,330.6 L737.6,332.8 L742.6,335.0 L747.5,337.1 L752.5,339.3 L757.5,341.5 L762.5,343.7 L767.5,345.9 L772.5,348.1 L777.5,350.3 L782.5,352.5 L787.4,354.7 L792.4,357.0 L797.4,359.2 L802.4,361.5 L807.4,363.8 L812.4,366.0 L817.4,368.3 L822.4,370.5 L827.3,372.8 L832.3,375.0 L837.3,377.2 L842.3,379.4 L847.3,381.6 L852.3,383.7 L857.3,385.9 L862.2,387.9 L867.2,390.0 L872.2,391.9 L877.2,393.8 L882.2,395.6 L887.2,397.3 L892.2,399.0 L897.2,400.6 L902.1,402.3 L907.1,403.9 L912.1,405.6 L917.1,407.3 L922.1,409.0 L927.1,410.8 L932.1,412.6 L937.0,414.4 L942.0,416.2 L947.0,418.0 L952.0,419.7 L957.0,421.4 L962.0,423.0 L967.0,424.6 L972.0,426.1 L976.9,427.6 L981.9,429.0 L986.9,430.4 L991.9,431.8 L996.9,433.1 L1001.9,434.3 L1006.9,435.5 L1011.8,436.6 L1016.8,437.6" fill="none" stroke="#4545b0" stroke-width="3" stroke-linejoin="round"/>
<path d="M109.2,438.1 L114.2,439.0 L119.2,439.8 L124.2,440.4 L129.2,441.0 L134.2,441.5 L139.2,441.9 L144.2,442.2 L149.1,442.4 L154.1,442.5 L159.1,442.5 L164.1,442.4 L169.1,442.3 L174.1,442.2 L179.1,442.0 L184.0,441.7 L189.0,441.5 L194.0,441.2 L199.0,440.8 L204.0,440.4 L209.0,439.9 L214.0,439.4 L219.0,438.7 L223.9,437.9 L228.9,437.0 L233.9,435.8 L238.9,434.5 L243.9,433.0 L248.9,431.3 L253.9,429.4 L258.8,427.2 L263.8,424.8 L268.8,422.3 L273.8,419.8 L278.8,417.0 L283.8,414.2 L288.8,411.3 L293.8,408.2 L298.7,405.0 L303.7,401.7 L308.7,398.4 L313.7,395.0 L318.7,391.5 L323.7,388.1 L328.7,384.6 L333.7,381.2 L338.6,377.7 L343.6,374.1 L348.6,370.6 L353.6,366.9 L358.6,363.1 L363.6,359.3 L368.6,355.3 L373.5,351.2 L378.5,347.0 L383.5,342.7 L388.5,338.4 L393.5,334.2 L398.5,330.1 L403.5,326.0 L408.5,322.0 L413.4,318.2 L418.4,314.4 L423.4,310.7 L428.4,307.1 L433.4,303.6 L438.4,300.3 L443.4,297.1 L448.3,294.0 L453.3,291.1 L458.3,288.3 L463.3,285.7 L468.3,283.2 L473.3,280.9 L478.3,278.7 L483.3,276.6 L488.2,274.6 L493.2,272.7 L498.2,270.9 L503.2,269.1 L508.2,267.4 L513.2,265.7 L518.2,264.1 L523.1,262.5 L528.1,261.0 L533.1,259.4 L538.1,257.8 L543.1,256.2 L548.1,254.5 L553.1,252.8 L558.1,251.1 L563.0,249.2 L568.0,247.4 L573.0,245.5 L578.0,243.6 L583.0,241.8 L588.0,240.0 L593.0,238.4 L597.9,237.0 L602.9,235.7 L607.9,234.6 L612.9,233.8 L617.9,233.3 L622.9,233.1 L627.9,233.2 L632.9,233.5 L637.8,234.0 L642.8,234.8 L647.8,235.8 L652.8,237.0 L657.8,238.4 L662.8,240.0 L667.8,241.7 L672.7,243.6 L677.7,245.7 L682.7,247.8 L687.7,250.1 L692.7,252.5 L697.7,254.9 L702.7,257.5 L707.7,260.1 L712.6,262.7 L717.6,265.4 L722.6,268.1 L727.6,270.8 L732.6,273.6 L737.6,276.3 L742.6,279.1 L747.5,281.9 L752.5,284.8 L757.5,287.7 L762.5,290.7 L767.5,293.8 L772.5,296.9 L777.5,300.1 L782.5,303.5 L787.4,306.9 L792.4,310.5 L797.4,314.1 L802.4,317.9 L807.4,321.7 L812.4,325.4 L817.4,329.2 L822.4,332.9 L827.3,336.7 L832.3,340.6 L837.3,344.4 L842.3,348.2 L847.3,351.9 L852.3,355.5 L857.3,359.0 L862.2,362.4 L867.2,365.8 L872.2,369.2 L877.2,372.7 L882.2,376.1 L887.2,379.5 L892.2,382.9 L897.2,386.2 L902.1,389.5 L907.1,392.7 L912.1,395.8 L917.1,398.8 L922.1,401.6 L927.1,404.3 L932.1,406.9 L937.0,409.4 L942.0,411.8 L947.0,414.1 L952.0,416.3 L957.0,418.5 L962.0,420.6 L967.0,422.6 L972.0,424.5 L976.9,426.3 L981.9,428.1 L986.9,429.8 L991.9,431.4 L996.9,432.8 L1001.9,434.2 L1006.9,435.5 L1011.8,436.7 L1016.8,437.7" fill="none" stroke="#b84040" stroke-width="1.7" stroke-dasharray="1.6 2.9"/>
<path d="M109.2,403.0 L114.2,403.9 L119.2,404.6 L124.2,405.2 L129.2,405.6 L134.2,406.0 L139.2,406.2 L144.2,406.4 L149.1,406.4 L154.1,406.3 L159.1,406.2 L164.1,406.2 L169.1,406.3 L174.1,406.4 L179.1,406.6 L184.0,406.8 L189.0,407.1 L194.0,407.3 L199.0,407.5 L204.0,407.6 L209.0,407.5 L214.0,407.2 L219.0,406.7 L223.9,406.0 L228.9,405.2 L233.9,404.2 L238.9,403.1 L243.9,401.9 L248.9,400.6 L253.9,399.1 L258.8,397.5 L263.8,395.7 L268.8,393.9 L273.8,391.9 L278.8,389.8 L283.8,387.6 L288.8,385.3 L293.8,382.9 L298.7,380.4 L303.7,377.8 L308.7,375.2 L313.7,372.4 L318.7,369.6 L323.7,366.8 L328.7,363.9 L333.7,361.0 L338.6,358.0 L343.6,355.1 L348.6,352.1 L353.6,349.2 L358.6,346.3 L363.6,343.5 L368.6,340.6 L373.5,337.7 L378.5,334.7 L383.5,331.5 L388.5,328.2 L393.5,324.9 L398.5,321.7 L403.5,318.4 L408.5,315.2 L413.4,311.9 L418.4,308.8 L423.4,305.8 L428.4,303.0 L433.4,300.3 L438.4,297.7 L443.4,295.0 L448.3,292.4 L453.3,289.9 L458.3,287.4 L463.3,284.9 L468.3,282.6 L473.3,280.4 L478.3,278.3 L483.3,276.2 L488.2,274.2 L493.2,272.2 L498.2,270.3 L503.2,268.4 L508.2,266.5 L513.2,264.6 L518.2,262.7 L523.1,260.8 L528.1,258.9 L533.1,257.0 L538.1,255.1 L543.1,253.2 L548.1,251.3 L553.1,249.5 L558.1,247.6 L563.0,245.7 L568.0,243.9 L573.0,242.1 L578.0,240.4 L583.0,238.8 L588.0,237.2 L593.0,235.9 L597.9,234.7 L602.9,233.7 L607.9,232.9 L612.9,232.4 L617.9,232.1 L622.9,232.0 L627.9,232.1 L632.9,232.4 L637.8,232.8 L642.8,233.4 L647.8,234.2 L652.8,235.4 L657.8,236.8 L662.8,238.7 L667.8,240.8 L672.7,243.1 L677.7,245.5 L682.7,248.1 L687.7,250.6 L692.7,253.1 L697.7,255.4 L702.7,257.7 L707.7,260.0 L712.6,262.2 L717.6,264.5 L722.6,266.8 L727.6,269.2 L732.6,271.7 L737.6,274.2 L742.6,276.9 L747.5,279.6 L752.5,282.3 L757.5,285.1 L762.5,288.0 L767.5,290.9 L772.5,293.8 L777.5,296.7 L782.5,299.7 L787.4,302.7 L792.4,305.6 L797.4,308.6 L802.4,311.6 L807.4,314.7 L812.4,317.8 L817.4,320.9 L822.4,324.2 L827.3,327.4 L832.3,330.7 L837.3,333.9 L842.3,337.0 L847.3,340.1 L852.3,343.0 L857.3,345.9 L862.2,348.6 L867.2,351.1 L872.2,353.5 L877.2,355.7 L882.2,357.9 L887.2,360.0 L892.2,362.2 L897.2,364.3 L902.1,366.5 L907.1,368.6 L912.1,370.7 L917.1,372.8 L922.1,374.8 L927.1,376.8 L932.1,378.6 L937.0,380.4 L942.0,382.2 L947.0,383.9 L952.0,385.5 L957.0,387.0 L962.0,388.5 L967.0,390.0 L972.0,391.4 L976.9,392.7 L981.9,394.1 L986.9,395.4 L991.9,396.8 L996.9,398.1 L1001.9,399.4 L1006.9,400.6 L1011.8,401.7 L1016.8,402.7" fill="none" stroke="#fff" stroke-opacity="0.22" stroke-width="4.6" stroke-linejoin="round"/>
<path d="M109.2,403.0 L114.2,403.9 L119.2,404.6 L124.2,405.2 L129.2,405.6 L134.2,406.0 L139.2,406.2 L144.2,406.4 L149.1,406.4 L154.1,406.3 L159.1,406.2 L164.1,406.2 L169.1,406.3 L174.1,406.4 L179.1,406.6 L184.0,406.8 L189.0,407.1 L194.0,407.3 L199.0,407.5 L204.0,407.6 L209.0,407.5 L214.0,407.2 L219.0,406.7 L223.9,406.0 L228.9,405.2 L233.9,404.2 L238.9,403.1 L243.9,401.9 L248.9,400.6 L253.9,399.1 L258.8,397.5 L263.8,395.7 L268.8,393.9 L273.8,391.9 L278.8,389.8 L283.8,387.6 L288.8,385.3 L293.8,382.9 L298.7,380.4 L303.7,377.8 L308.7,375.2 L313.7,372.4 L318.7,369.6 L323.7,366.8 L328.7,363.9 L333.7,361.0 L338.6,358.0 L343.6,355.1 L348.6,352.1 L353.6,349.2 L358.6,346.3 L363.6,343.5 L368.6,340.6 L373.5,337.7 L378.5,334.7 L383.5,331.5 L388.5,328.2 L393.5,324.9 L398.5,321.7 L403.5,318.4 L408.5,315.2 L413.4,311.9 L418.4,308.8 L423.4,305.8 L428.4,303.0 L433.4,300.3 L438.4,297.7 L443.4,295.0 L448.3,292.4 L453.3,289.9 L458.3,287.4 L463.3,284.9 L468.3,282.6 L473.3,280.4 L478.3,278.3 L483.3,276.2 L488.2,274.2 L493.2,272.2 L498.2,270.3 L503.2,268.4 L508.2,266.5 L513.2,264.6 L518.2,262.7 L523.1,260.8 L528.1,258.9 L533.1,257.0 L538.1,255.1 L543.1,253.2 L548.1,251.3 L553.1,249.5 L558.1,247.6 L563.0,245.7 L568.0,243.9 L573.0,242.1 L578.0,240.4 L583.0,238.8 L588.0,237.2 L593.0,235.9 L597.9,234.7 L602.9,233.7 L607.9,232.9 L612.9,232.4 L617.9,232.1 L622.9,232.0 L627.9,232.1 L632.9,232.4 L637.8,232.8 L642.8,233.4 L647.8,234.2 L652.8,235.4 L657.8,236.8 L662.8,238.7 L667.8,240.8 L672.7,243.1 L677.7,245.5 L682.7,248.1 L687.7,250.6 L692.7,253.1 L697.7,255.4 L702.7,257.7 L707.7,260.0 L712.6,262.2 L717.6,264.5 L722.6,266.8 L727.6,269.2 L732.6,271.7 L737.6,274.2 L742.6,276.9 L747.5,279.6 L752.5,282.3 L757.5,285.1 L762.5,288.0 L767.5,290.9 L772.5,293.8 L777.5,296.7 L782.5,299.7 L787.4,302.7 L792.4,305.6 L797.4,308.6 L802.4,311.6 L807.4,314.7 L812.4,317.8 L817.4,320.9 L822.4,324.2 L827.3,327.4 L832.3,330.7 L837.3,333.9 L842.3,337.0 L847.3,340.1 L852.3,343.0 L857.3,345.9 L862.2,348.6 L867.2,351.1 L872.2,353.5 L877.2,355.7 L882.2,357.9 L887.2,360.0 L892.2,362.2 L897.2,364.3 L902.1,366.5 L907.1,368.6 L912.1,370.7 L917.1,372.8 L922.1,374.8 L927.1,376.8 L932.1,378.6 L937.0,380.4 L942.0,382.2 L947.0,383.9 L952.0,385.5 L957.0,387.0 L962.0,388.5 L967.0,390.0 L972.0,391.4 L976.9,392.7 L981.9,394.1 L986.9,395.4 L991.9,396.8 L996.9,398.1 L1001.9,399.4 L1006.9,400.6 L1011.8,401.7 L1016.8,402.7" fill="none" stroke="#a8454d" stroke-width="3" stroke-linejoin="round"/>
<circle cx="211.7" cy="407.3" r="3" fill="#000"/>
<text x="209.9" y="371.1" font-size="22.5" text-anchor="middle" fill="none" stroke="#fff" stroke-opacity="0.5" stroke-width="6.5" stroke-linejoin="round">Feb 11</text>
<text x="209.9" y="371.1" font-size="22.5" text-anchor="middle" fill="#000" stroke="#000" stroke-width="0.35">Feb 11</text>
<text x="211.7" y="397.9" font-size="22.5" text-anchor="middle" fill="none" stroke="#fff" stroke-opacity="0.5" stroke-width="6.5" stroke-linejoin="round">32°F</text>
<text x="211.7" y="397.9" font-size="22.5" text-anchor="middle" fill="#000" stroke="#000" stroke-width="0.35">32°F</text>
<circle cx="311.3" cy="373.7" r="3" fill="#000"/>
<text x="311.3" y="337.5" font-size="22.5" text-anchor="middle" fill="none" stroke="#fff" stroke-opacity="0.5" stroke-width="6.5" stroke-linejoin="round">Mar 23</text>
<text x="311.3" y="337.5" font-size="22.5" text-anchor="middle" fill="#000" stroke="#000" stroke-width="0.35">Mar 23</text>
<text x="311.3" y="364.3" font-size="22.5" text-anchor="middle" fill="none" stroke="#fff" stroke-opacity="0.5" stroke-width="6.5" stroke-linejoin="round">39°F</text>
<text x="311.3" y="364.3" font-size="22.5" text-anchor="middle" fill="#000" stroke="#000" stroke-width="0.35">39°F</text>
<circle cx="505.7" cy="267.4" r="3" fill="#000"/>
<text x="505.7" y="231.2" font-size="22.5" text-anchor="middle" fill="none" stroke="#fff" stroke-opacity="0.5" stroke-width="6.5" stroke-linejoin="round">Jun 9</text>
<text x="505.7" y="231.2" font-size="22.5" text-anchor="middle" fill="#000" stroke="#000" stroke-width="0.35">Jun 9</text>
<text x="505.7" y="258.0" font-size="22.5" text-anchor="middle" fill="none" stroke="#fff" stroke-opacity="0.5" stroke-width="6.5" stroke-linejoin="round">63°F</text>
<text x="505.7" y="258.0" font-size="22.5" text-anchor="middle" fill="#000" stroke="#000" stroke-width="0.35">63°F</text>
<circle cx="612.9" cy="232.4" r="3" fill="#000"/>
<text x="612.9" y="196.2" font-size="22.5" text-anchor="middle" fill="none" stroke="#fff" stroke-opacity="0.5" stroke-width="6.5" stroke-linejoin="round">Jul 22</text>
<text x="612.9" y="196.2" font-size="22.5" text-anchor="middle" fill="#000" stroke="#000" stroke-width="0.35">Jul 22</text>
<text x="612.9" y="223.0" font-size="22.5" text-anchor="middle" fill="none" stroke="#fff" stroke-opacity="0.5" stroke-width="6.5" stroke-linejoin="round">70°F</text>
<text x="612.9" y="223.0" font-size="22.5" text-anchor="middle" fill="#000" stroke="#000" stroke-width="0.35">70°F</text>
<circle cx="725.0" cy="267.9" r="3" fill="#000"/>
<text x="725.0" y="231.7" font-size="22.5" text-anchor="middle" fill="none" stroke="#fff" stroke-opacity="0.5" stroke-width="6.5" stroke-linejoin="round">Sep 5</text>
<text x="725.0" y="231.7" font-size="22.5" text-anchor="middle" fill="#000" stroke="#000" stroke-width="0.35">Sep 5</text>
<text x="725.0" y="258.5" font-size="22.5" text-anchor="middle" fill="none" stroke="#fff" stroke-opacity="0.5" stroke-width="6.5" stroke-linejoin="round">63°F</text>
<text x="725.0" y="258.5" font-size="22.5" text-anchor="middle" fill="#000" stroke="#000" stroke-width="0.35">63°F</text>
<circle cx="916.9" cy="372.7" r="3" fill="#000"/>
<text x="915.1" y="336.5" font-size="22.5" text-anchor="middle" fill="none" stroke="#fff" stroke-opacity="0.5" stroke-width="6.5" stroke-linejoin="round">Nov 21</text>
<text x="915.1" y="336.5" font-size="22.5" text-anchor="middle" fill="#000" stroke="#000" stroke-width="0.35">Nov 21</text>
<text x="916.9" y="363.3" font-size="22.5" text-anchor="middle" fill="none" stroke="#fff" stroke-opacity="0.5" stroke-width="6.5" stroke-linejoin="round">39°F</text>
<text x="916.9" y="363.3" font-size="22.5" text-anchor="middle" fill="#000" stroke="#000" stroke-width="0.35">39°F</text>
<circle cx="211.7" cy="450.2" r="3" fill="#000"/>
<text x="211.7" y="475.7" font-size="22.5" text-anchor="middle" fill="none" stroke="#fff" stroke-opacity="0.5" stroke-width="6.5" stroke-linejoin="round">23°F</text>
<text x="211.7" y="475.7" font-size="22.5" text-anchor="middle" fill="#000" stroke="#000" stroke-width="0.35">23°F</text>
<circle cx="311.3" cy="426.8" r="3" fill="#000"/>
<text x="311.3" y="452.3" font-size="22.5" text-anchor="middle" fill="none" stroke="#fff" stroke-opacity="0.5" stroke-width="6.5" stroke-linejoin="round">28°F</text>
<text x="311.3" y="452.3" font-size="22.5" text-anchor="middle" fill="#000" stroke="#000" stroke-width="0.35">28°F</text>
<circle cx="505.7" cy="337.5" r="3" fill="#000"/>
<text x="505.7" y="363.0" font-size="22.5" text-anchor="middle" fill="none" stroke="#fff" stroke-opacity="0.5" stroke-width="6.5" stroke-linejoin="round">47°F</text>
<text x="505.7" y="363.0" font-size="22.5" text-anchor="middle" fill="#000" stroke="#000" stroke-width="0.35">47°F</text>
<circle cx="612.9" cy="299.9" r="3" fill="#000"/>
<text x="612.9" y="325.4" font-size="22.5" text-anchor="middle" fill="none" stroke="#fff" stroke-opacity="0.5" stroke-width="6.5" stroke-linejoin="round">55°F</text>
<text x="612.9" y="325.4" font-size="22.5" text-anchor="middle" fill="#000" stroke="#000" stroke-width="0.35">55°F</text>
<circle cx="725.0" cy="327.4" r="3" fill="#000"/>
<text x="725.0" y="352.9" font-size="22.5" text-anchor="middle" fill="none" stroke="#fff" stroke-opacity="0.5" stroke-width="6.5" stroke-linejoin="round">50°F</text>
<text x="725.0" y="352.9" font-size="22.5" text-anchor="middle" fill="#000" stroke="#000" stroke-width="0.35">50°F</text>
<circle cx="916.9" cy="407.2" r="3" fill="#000"/>
<text x="916.9" y="432.7" font-size="22.5" text-anchor="middle" fill="none" stroke="#fff" stroke-opacity="0.5" stroke-width="6.5" stroke-linejoin="round">32°F</text>
<text x="916.9" y="432.7" font-size="22.5" text-anchor="middle" fill="#000" stroke="#000" stroke-width="0.35">32°F</text>
<text x="102.5" y="563.1" font-size="23" text-anchor="end" fill="#666" stroke="#666" stroke-width="0.35">0°F</text>
<text x="1023.5" y="563.1" font-size="23" text-anchor="start" fill="#666" stroke="#666" stroke-width="0.35">0°F</text>
<text x="102.5" y="517.1" font-size="23" text-anchor="end" fill="#666" stroke="#666" stroke-width="0.35">10°F</text>
<text x="1023.5" y="517.1" font-size="23" text-anchor="start" fill="#666" stroke="#666" stroke-width="0.35">10°F</text>
<text x="102.5" y="471.1" font-size="23" text-anchor="end" fill="#666" stroke="#666" stroke-width="0.35">20°F</text>
<text x="1023.5" y="471.1" font-size="23" text-anchor="start" fill="#666" stroke="#666" stroke-width="0.35">20°F</text>
<text x="102.5" y="425.1" font-size="23" text-anchor="end" fill="#666" stroke="#666" stroke-width="0.35">30°F</text>
<text x="1023.5" y="425.1" font-size="23" text-anchor="start" fill="#666" stroke="#666" stroke-width="0.35">30°F</text>
<text x="102.5" y="379.1" font-size="23" text-anchor="end" fill="#666" stroke="#666" stroke-width="0.35">40°F</text>
<text x="1023.5" y="379.1" font-size="23" text-anchor="start" fill="#666" stroke="#666" stroke-width="0.35">40°F</text>
<text x="102.5" y="333.1" font-size="23" text-anchor="end" fill="#666" stroke="#666" stroke-width="0.35">50°F</text>
<text x="1023.5" y="333.1" font-size="23" text-anchor="start" fill="#666" stroke="#666" stroke-width="0.35">50°F</text>
<text x="102.5" y="287.0" font-size="23" text-anchor="end" fill="#666" stroke="#666" stroke-width="0.35">60°F</text>
<text x="1023.5" y="287.0" font-size="23" text-anchor="start" fill="#666" stroke="#666" stroke-width="0.35">60°F</text>
<text x="102.5" y="241.0" font-size="23" text-anchor="end" fill="#666" stroke="#666" stroke-width="0.35">70°F</text>
<text x="1023.5" y="241.0" font-size="23" text-anchor="start" fill="#666" stroke="#666" stroke-width="0.35">70°F</text>
<text x="102.5" y="195.0" font-size="23" text-anchor="end" fill="#666" stroke="#666" stroke-width="0.35">80°F</text>
<text x="1023.5" y="195.0" font-size="23" text-anchor="start" fill="#666" stroke="#666" stroke-width="0.35">80°F</text>
<text x="102.5" y="149.0" font-size="23" text-anchor="end" fill="#666" stroke="#666" stroke-width="0.35">90°F</text>
<text x="1023.5" y="149.0" font-size="23" text-anchor="start" fill="#666" stroke="#666" stroke-width="0.35">90°F</text>
<text x="102.5" y="103.0" font-size="23" text-anchor="end" fill="#666" stroke="#666" stroke-width="0.35">100°F</text>
<text x="1023.5" y="103.0" font-size="23" text-anchor="start" fill="#666" stroke="#666" stroke-width="0.35">100°F</text>
<text x="146.9" y="618" font-size="23" text-anchor="middle" fill="#000" stroke="#000" stroke-width="0.35">Jan</text>
<text x="220.4" y="618" font-size="23" text-anchor="middle" fill="#000" stroke="#000" stroke-width="0.35">Feb</text>
<text x="293.9" y="618" font-size="23" text-anchor="middle" fill="#000" stroke="#000" stroke-width="0.35">Mar</text>
<text x="369.9" y="618" font-size="23" text-anchor="middle" fill="#000" stroke="#000" stroke-width="0.35">Apr</text>
<text x="445.9" y="618" font-size="23" text-anchor="middle" fill="#000" stroke="#000" stroke-width="0.35">May</text>
<text x="521.9" y="618" font-size="23" text-anchor="middle" fill="#000" stroke="#000" stroke-width="0.35">Jun</text>
<text x="597.9" y="618" font-size="23" text-anchor="middle" fill="#000" stroke="#000" stroke-width="0.35">Jul</text>
<text x="675.2" y="618" font-size="23" text-anchor="middle" fill="#000" stroke="#000" stroke-width="0.35">Aug</text>
<text x="751.2" y="618" font-size="23" text-anchor="middle" fill="#000" stroke="#000" stroke-width="0.35">Sep</text>
<text x="827.2" y="618" font-size="23" text-anchor="middle" fill="#000" stroke="#000" stroke-width="0.35">Oct</text>
<text x="903.2" y="618" font-size="23" text-anchor="middle" fill="#000" stroke="#000" stroke-width="0.35">Nov</text>
<text x="979.2" y="618" font-size="23" text-anchor="middle" fill="#000" stroke="#000" stroke-width="0.35">Dec</text>
</svg></body></html>
